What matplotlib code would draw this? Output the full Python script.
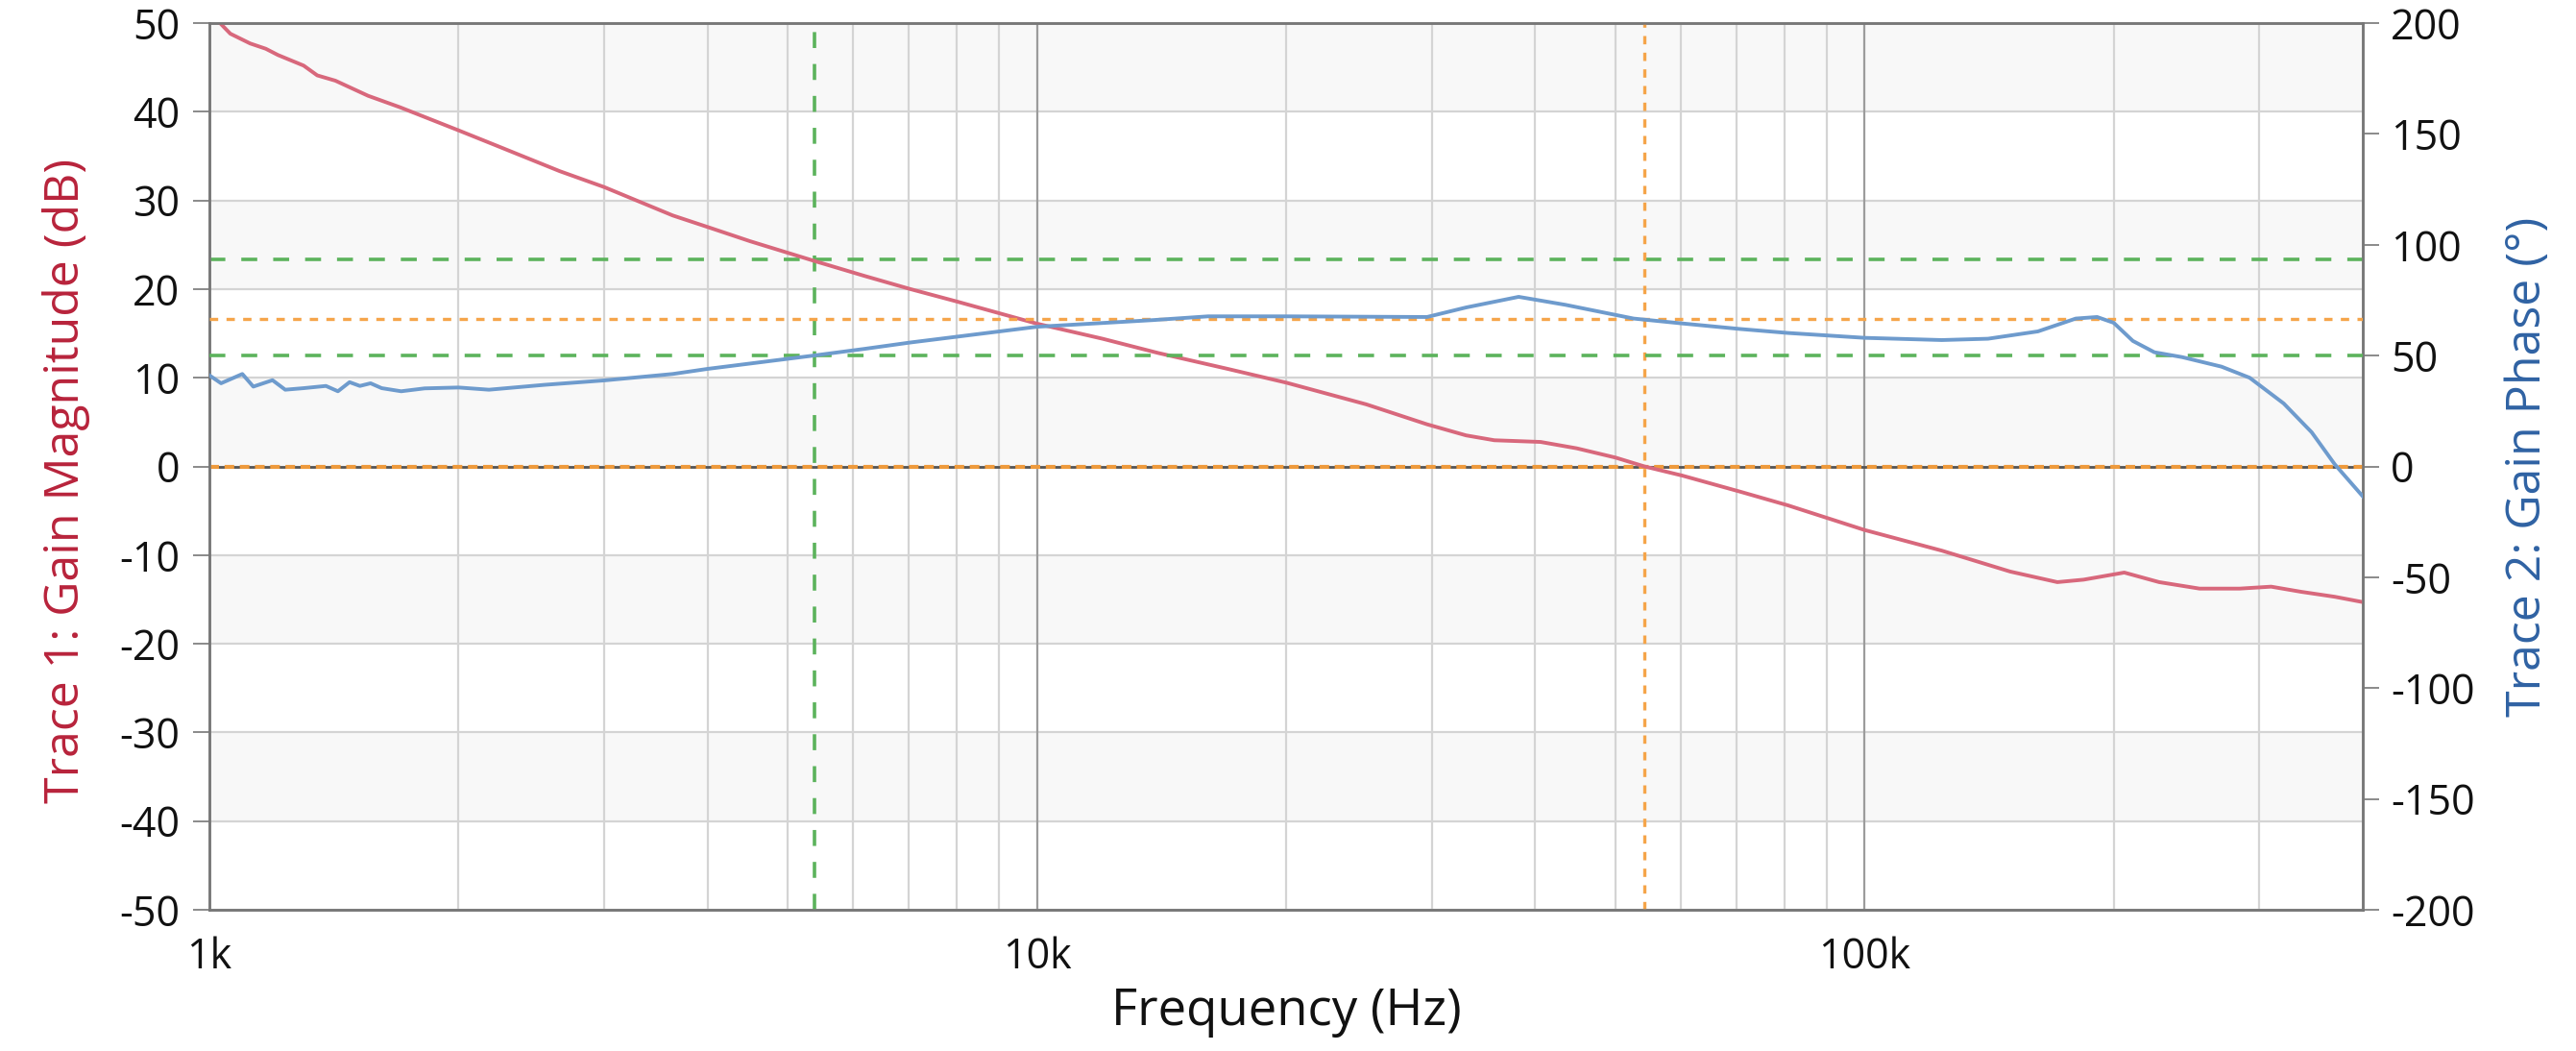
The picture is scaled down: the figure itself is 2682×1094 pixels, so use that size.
import matplotlib
matplotlib.use("Agg")
import matplotlib.pyplot as plt
from matplotlib.ticker import FixedLocator, NullFormatter, NullLocator

# ---------------- data ----------------
freq_mag = [1000, 1030, 1060, 1120, 1170, 1210, 1300, 1350, 1420, 1555, 1700,
            2000, 2220, 2650, 3000, 3630, 4000, 4500, 5370, 6180, 7030, 8000,
            10000, 12000, 14000, 17000, 20000, 25000, 29600, 33000, 35700,
            40600, 44900, 50000, 54200, 60200, 70700, 80800, 100000, 124000,
            150000, 171000, 184000, 206000, 227000, 254000, 284000, 310000,
            337000, 370000, 400000]
mag_db = [50.6, 50.0, 48.8, 47.7, 47.1, 46.4, 45.2, 44.1, 43.5, 41.8, 40.5,
          37.9, 36.2, 33.3, 31.5, 28.3, 27.0, 25.4, 23.2, 21.5, 20.0, 18.6,
          16.1, 14.4, 12.8, 11.0, 9.45, 7.0, 4.75, 3.5, 2.95,
          2.76, 2.04, 1.0, 0.0, -1.03, -2.84, -4.39, -7.17, -9.5,
          -11.86, -13.05, -12.77, -11.97, -13.05, -13.78, -13.78, -13.56,
          -14.14, -14.7, -15.3]

freq_ph = [1000, 1033, 1096, 1130, 1192, 1235, 1300, 1383, 1430, 1477, 1520,
           1566, 1615, 1705, 1820, 2000, 2177, 2540, 3000, 3630, 4000, 5370,
           6180, 7030, 10000, 13800, 16100, 20000, 29600, 33000, 38200, 43500,
           52600, 60200, 70700, 80800, 100000, 124000, 141000, 162000, 180000,
           191000, 200000, 211000, 224000, 242000, 270000, 292000, 321000,
           347000, 370000, 400000]
phase_deg = [41.1, 37.5, 41.7, 36.0, 38.9, 34.6, 35.3, 36.3, 33.9, 38.0, 36.3,
             37.5, 35.3, 33.9, 35.2, 35.6, 34.6, 36.8, 38.8, 41.7, 44.0, 50.0,
             53.0, 55.9, 63.0, 66.0, 67.7, 67.7, 67.4, 71.7, 76.5, 72.9,
             66.7, 64.5, 62.0, 60.2, 58.0, 57.0, 57.6, 60.9, 66.7,
             67.4, 64.8, 56.6, 51.5, 49.3, 45.0, 40.0, 28.4,
             15.4, 0.95, -13.5]

# cursor / marker values
green_freq = 5380
green_mag = 23.3
green_phase = 50
orange_freq = 54200
orange_mag = 0
orange_phase = 66.4

mag_ticks = [-50, -40, -30, -20, -10, 0, 10, 20, 30, 40, 50]
phase_ticks = [-200, -150, -100, -50, 0, 50, 100, 150, 200]
x_major = [1000, 10000, 100000]
x_major_labels = ["1k", "10k", "100k"]
x_minor = [m * d for d in (1000, 10000, 100000) for m in range(2, 10) if m * d < 400000]

# ---------------- styling ----------------
plt.rcParams['font.family'] = ['Open Sans', 'DejaVu Sans']
plt.rcParams['axes.unicode_minus'] = False
RED_LINE = '#d8687c'
BLUE_LINE = '#6e9bcd'
RED_TXT = '#b8233b'
BLUE_TXT = '#2f62a3'
GREEN = '#5cb35c'
ORANGE = '#f5a54a'
GRID = '#d4d4d4'
GRID_MAJ = '#9c9c9c'
SPINE = '#777777'
BAND = '#f8f8f8'

fig = plt.figure(figsize=(26.82, 10.94), dpi=100)
ax = fig.add_axes([218 / 2682, 1 - 947 / 1094, (2460 - 218) / 2682, (947 - 24) / 1094])
ax.set_xscale('log')
ax.set_xlim(1000, 400000)
ax.set_ylim(-50, 50)

# alternating background bands
for i, lo in enumerate(range(40, -60, -10)):
    if i % 2 == 0:
        ax.axhspan(lo, lo + 10, color=BAND, lw=0, zorder=0)

# grid
for y in mag_ticks:
    ax.axhline(y, color=GRID, lw=1.6, zorder=1)
for x in x_minor:
    ax.axvline(x, color=GRID, lw=1.6, zorder=1)
for x in x_major[1:]:
    ax.axvline(x, color=GRID_MAJ, lw=1.6, zorder=1)

# zero line (dark line with orange cursor dashes on top)
ax.axhline(0, color='#555555', lw=2.0, zorder=2)
ax.axhline(orange_mag, color='#ee9a3c', lw=3.0, ls=(0, (2.4, 1.4)), zorder=3)

# markers
ax.axvline(green_freq, color=GREEN, lw=2.6, ls=(0, (4.6, 4.6)), zorder=3)
ax.axhline(green_mag, color=GREEN, lw=2.6, ls=(0, (4.6, 4.6)), zorder=3)
ax.axvline(orange_freq, color=ORANGE, lw=2.4, ls=(0, (2.6, 2.6)), zorder=3)

ax.plot(freq_mag, mag_db, color=RED_LINE, lw=2.8, zorder=5, clip_on=True,
        solid_joinstyle='round')

ax.set_yticks(mag_ticks)
ax.xaxis.set_major_locator(FixedLocator(x_major))
ax.set_xticklabels(x_major_labels)
ax.xaxis.set_minor_locator(NullLocator())
ax.xaxis.set_minor_formatter(NullFormatter())
ax.tick_params(axis='x', length=0, pad=20, labelsize=31, labelcolor='#111111')
ax.tick_params(axis='y', direction='out', length=12, width=1.4, color='#8a8a8a',
               pad=10, labelsize=31, labelcolor='#111111')

for s in ax.spines.values():
    s.set_color(SPINE)
    s.set_linewidth(1.8)

ax.set_xlabel("Frequency (Hz)", fontsize=38, color='#111111')
ax.xaxis.set_label_coords(0.5, -0.086)
ax.set_ylabel("Trace 1: Gain Magnitude (dB)", fontsize=36, color=RED_TXT)
ax.yaxis.set_label_coords(-0.0553, 0.484)

# phase axis
ax2 = ax.twinx()
ax2.set_ylim(-200, 200)
ax2.axhline(green_phase, color=GREEN, lw=2.6, ls=(0, (4.6, 4.6)), zorder=3)
ax2.axhline(orange_phase, color=ORANGE, lw=2.4, ls=(0, (2.6, 2.6)), zorder=3)
ax2.plot(freq_ph, phase_deg, color=BLUE_LINE, lw=2.8, zorder=5,
         solid_joinstyle='round')
ax2.set_yticks(phase_ticks)
ax2.tick_params(axis='y', direction='out', length=12, width=1.4, color='#8a8a8a',
                pad=9, labelsize=31, labelcolor='#111111')
for s in ax2.spines.values():
    s.set_color(SPINE)
    s.set_linewidth(1.8)
ax2.set_ylabel("Trace 2: Gain Phase (°)", fontsize=36, color=BLUE_TXT)
ax2.yaxis.set_label_coords(1.066, 0.5)

fig.savefig("out.png", dpi=100, facecolor='white')
